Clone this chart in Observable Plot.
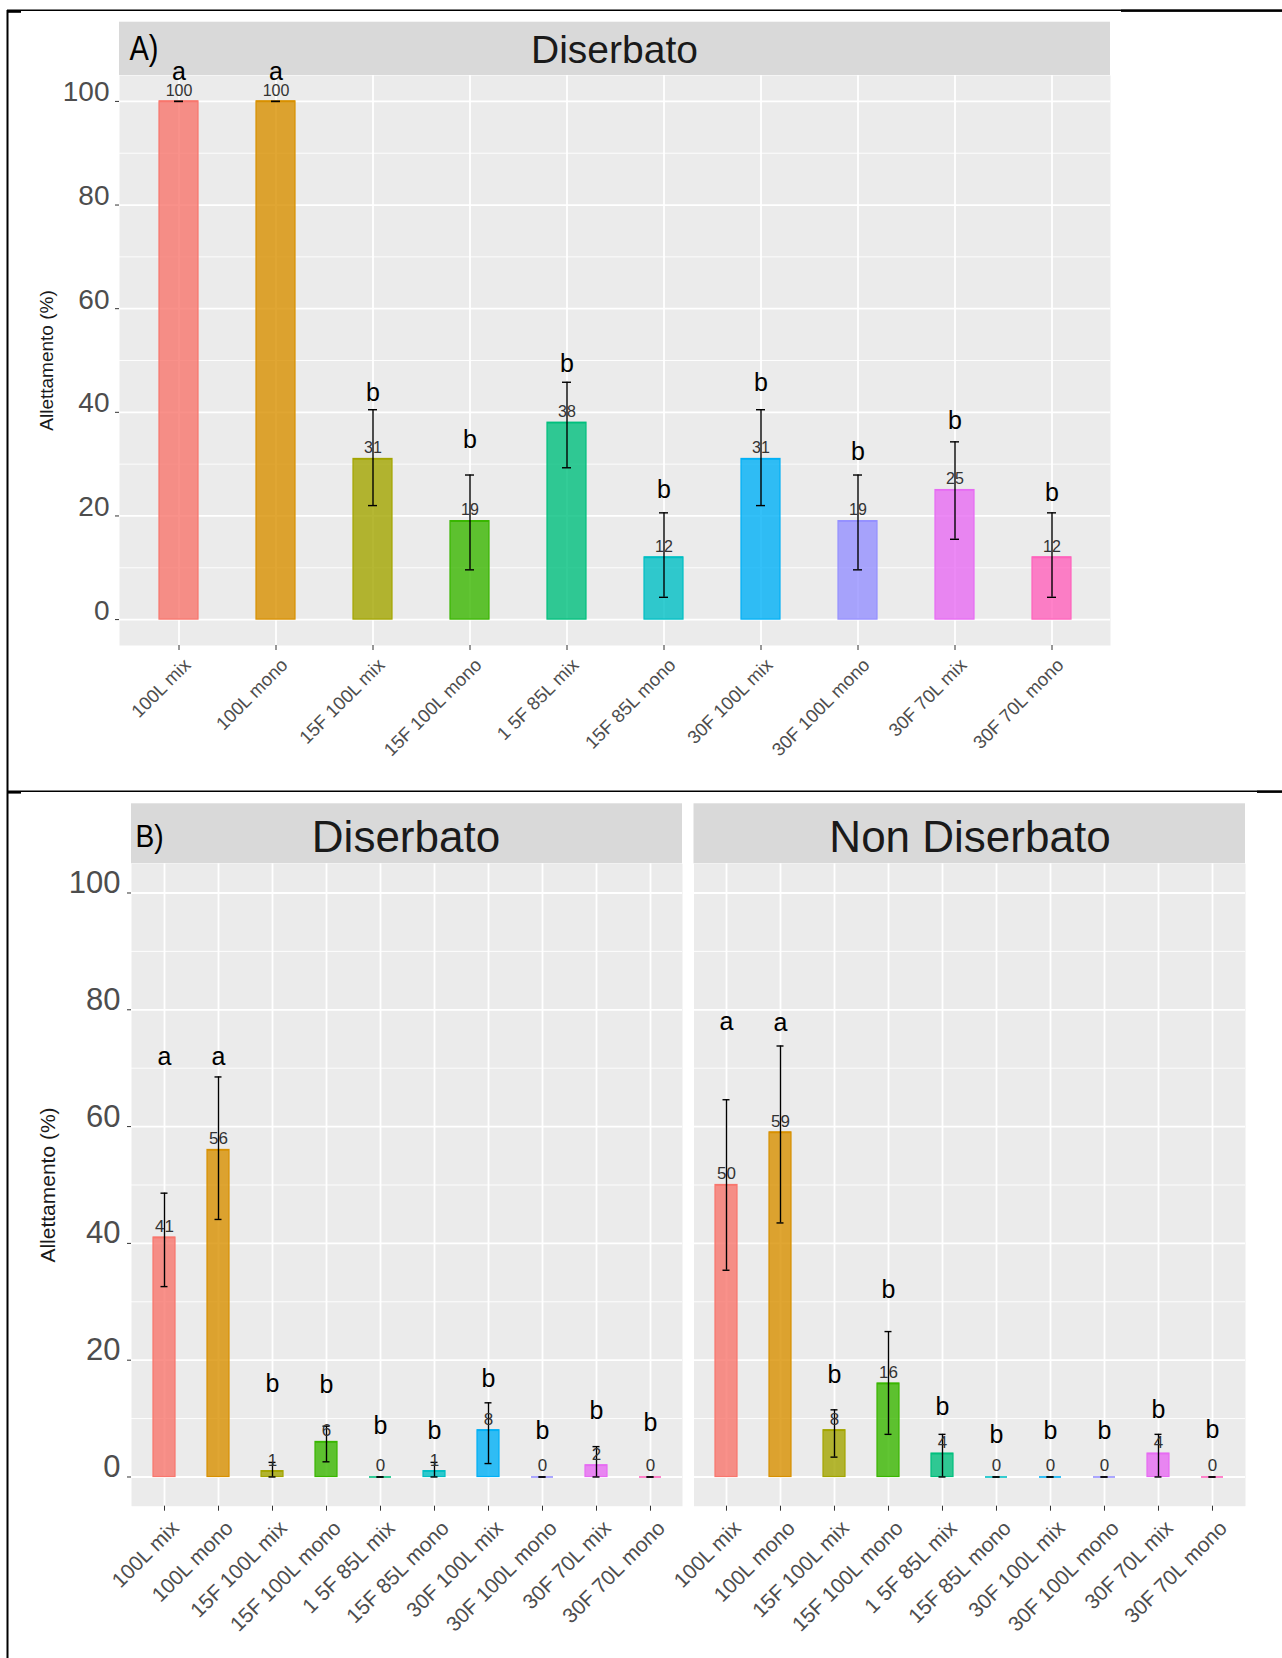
<!DOCTYPE html>
<html>
<head>
<meta charset="utf-8">
<script src="https://cdn.jsdelivr.net/npm/d3@7"></script>
<script src="https://cdn.jsdelivr.net/npm/@observablehq/plot@0.6"></script>
<style>
  html, body { margin: 0; padding: 0; background: #fff; }
  #page { position: relative; width: 1282px; height: 1658px; overflow: hidden; }
  #page svg { position: absolute; left: 0; top: 0; }
</style>
</head>
<body>
<div id="page"></div>
<script>
// Treatments (x categories) and their ggplot-style hue colours
const categories = ["100L mix", "100L mono", "15F 100L mix", "15F 100L mono", "1 5F 85L mix",
                    "15F 85L mono", "30F 100L mix", "30F 100L mono", "30F 70L mix", "30F 70L mono"];
const hues = ["#F8766D", "#D89000", "#A3A500", "#39B600", "#00BF7D",
              "#00BFC4", "#00B0F6", "#9590FF", "#E76BF3", "#FF62BC"];
const majorTicks = [0, 20, 40, 60, 80, 100];
const minorTicks = [10, 30, 50, 70, 90];
const yTitle = "Allettamento (%)";

// A) Diserbato
const valuesA  = [100, 100, 31, 19, 38, 12, 31, 19, 25, 12];
const lowA     = [100, 100, 22.0, 9.6, 29.3, 4.3, 22.0, 9.6, 15.5, 4.3];
const highA    = [100, 100, 40.5, 27.9, 45.8, 20.6, 40.5, 27.9, 34.3, 20.6];
const lettersA = ["a", "a", "b", "b", "b", "b", "b", "b", "b", "b"];
const letterYA = [105.6, 105.6, 43.7, 34.7, 49.3, 25.0, 45.6, 32.4, 38.4, 24.5];

// B) Diserbato
const valuesBd  = [41, 56, 1, 6, 0, 1, 8, 0, 2, 0];
const lowBd     = [32.6, 44.1, 0, 2.6, 0, 0, 2.3, 0, 0, 0];
const highBd    = [48.6, 68.5, 2.5, 8.7, 0, 2.5, 12.7, 0, 5.2, 0];
const lettersBd = ["a", "a", "b", "b", "b", "b", "b", "b", "b", "b"];
const letterYBd = [72, 72, 16.0, 15.8, 8.7, 7.8, 16.7, 7.8, 11.3, 9.3];

// B) Non Diserbato
const valuesBn  = [50, 59, 8, 16, 4, 0, 0, 0, 4, 0];
const lowBn     = [35.4, 43.5, 3.4, 7.3, 0, 0, 0, 0, 0, 0];
const highBn    = [64.6, 73.8, 11.5, 24.9, 7.3, 0, 0, 0, 7.3, 0];
const lettersBn = ["a", "a", "b", "b", "b", "b", "b", "b", "b", "b"];
const letterYBn = [77.9, 77.7, 17.5, 32.1, 12.0, 7.2, 7.8, 7.8, 11.5, 8.0];

const FONT = "'Liberation Sans', Arial, sans-serif";
const W = 1282;
const page = document.getElementById("page");

// Decorations: table rules, facet strips and their titles
const deco = d3.create("svg").attr("width", W).attr("height", 1658)
  .style("font-family", FONT);
function bar(x, y, w, h) { deco.append("rect").attr("x", x).attr("y", y).attr("width", w).attr("height", h).attr("fill", "#000"); }
bar(7, 9.5, 1114, 1.5);
bar(1121, 9.3, 161, 2.6);
bar(7, 10, 14, 2.8);
bar(6.5, 10, 2, 1648);
bar(7, 790.5, 1250, 1.5);
bar(1257, 790.3, 25, 2.6);
bar(7, 791, 14, 2.6);

function strip(x, y, w, h, title, cx, baseline, size) {
  deco.append("rect").attr("x", x).attr("y", y).attr("width", w).attr("height", h).attr("fill", "#d9d9d9");
  deco.append("text").attr("x", cx).attr("y", baseline).attr("text-anchor", "middle")
    .attr("font-size", size).attr("fill", "#1a1a1a").text(title);
}
strip(119, 21.7, 991, 53.3, "Diserbato", 614.5, 63.3, 39);
strip(131, 803.3, 551, 60, "Diserbato", 406, 851.7, 44);
strip(693.5, 803.3, 551.5, 60, "Non Diserbato", 970, 851.7, 44);
deco.append("text").attr("transform", "translate(129.5,60) scale(0.83,1)")
  .attr("font-size", 35).attr("fill", "#000").text("A)");
deco.append("text").attr("transform", "translate(135.5,846.5) scale(0.88,1)")
  .attr("font-size", 32).attr("fill", "#000").text("B)");
page.appendChild(deco.node());

// One facet panel: bars with error bars, value labels and group letters
function drawPanel(cfg) {
  const rows = categories.map((cat, i) => ({
    cat, color: hues[i], value: cfg.values[i], low: cfg.low[i], high: cfg.high[i],
    letter: cfg.letters[i], letterY: cfg.letterY[i]
  }));
  const H = cfg.bottom + 140;
  const marks = [
    Plot.frame({fill: "#ebebeb", stroke: "none"}),
    Plot.gridY(minorTicks, {stroke: "#fff", strokeOpacity: 1, strokeWidth: 0.9}),
    Plot.gridY(majorTicks, {stroke: "#fff", strokeOpacity: 1, strokeWidth: 1.8}),
    Plot.gridX({stroke: "#fff", strokeOpacity: 1, strokeWidth: 1.8}),
    Plot.barY(rows, {x: "cat", y: "value", fill: "color", fillOpacity: 0.8, stroke: "color", strokeWidth: 1.2}),
    Plot.tickY(rows, {x: "cat", y: "value", stroke: "color", strokeWidth: 1.6}),
    Plot.ruleX(rows, {x: "cat", y1: "low", y2: "high", stroke: "#000", strokeWidth: 1.4}),
    Plot.tickY(rows, {x: "cat", y: "low", stroke: "#000", strokeWidth: 1.4, insetLeft: cfg.capInset, insetRight: cfg.capInset}),
    Plot.tickY(rows, {x: "cat", y: "high", stroke: "#000", strokeWidth: 1.4, insetLeft: cfg.capInset, insetRight: cfg.capInset}),
    Plot.text(rows, {x: "cat", y: "value", text: d => String(d.value), dy: -11, fontSize: cfg.valueSize, fill: "#333"}),
    Plot.text(rows, {x: "cat", y: "letterY", text: "letter", fontSize: 25, fill: "#000"}),
    // x ticks and the slanted x labels (labels shifted so their ends sit right of the tick)
    Plot.axisX({tickSize: 5, fill: "none", stroke: "#333", label: null}),
    Plot.axisX({tickSize: 5, stroke: "none", tickRotate: -45, tickPadding: cfg.xPad, dx: cfg.xDx,
                fontSize: cfg.xSize, fill: "#4d4d4d", label: null})
  ];
  if (cfg.showY) {
    marks.push(
      Plot.axisY(majorTicks, {tickSize: 4, tickPadding: cfg.yPad, fontSize: cfg.ySize, lineAnchor: "bottom",
                              fill: "#4d4d4d", stroke: "#333", label: null}),
      Plot.text([yTitle], {text: d => d, frameAnchor: "left", textAnchor: "middle", rotate: -90,
                           dx: cfg.titleDx, fontSize: cfg.titleSize, fill: "#1a1a1a"})
    );
  }
  const chart = Plot.plot({
    width: W, height: H,
    marginLeft: cfg.left, marginRight: W - cfg.right,
    marginTop: cfg.top, marginBottom: H - cfg.bottom,
    style: {background: "none", overflow: "visible", fontFamily: FONT, maxWidth: "none"},
    x: {type: "band", domain: categories, paddingInner: 0.6, paddingOuter: 0.4, label: null},
    y: {domain: [-5, 105], label: null, axis: cfg.showY ? undefined : null},
    color: {type: "identity"},
    marks
  });
  page.appendChild(chart);
}

drawPanel({values: valuesA, low: lowA, high: highA, letters: lettersA, letterY: letterYA,
  left: 119, right: 1110, top: 75, bottom: 645, showY: true, capInset: 15,
  valueSize: 16, xSize: 18.5, xPad: 11.5, xDx: 8.5, ySize: 28, yPad: 6, titleDx: -73, titleSize: 19});
drawPanel({values: valuesBd, low: lowBd, high: highBd, letters: lettersBd, letterY: letterYBd,
  left: 131, right: 682, top: 863.3, bottom: 1505.7, showY: true, capInset: 7.5,
  valueSize: 17, xSize: 21, xPad: 13.5, xDx: 11, ySize: 31, yPad: 7, titleDx: -83.5, titleSize: 21});
drawPanel({values: valuesBn, low: lowBn, high: highBn, letters: lettersBn, letterY: letterYBn,
  left: 693.5, right: 1245, top: 863.3, bottom: 1505.7, showY: false, capInset: 7.5,
  valueSize: 17, xSize: 21, xPad: 13.5, xDx: 11});
</script>
</body>
</html>
